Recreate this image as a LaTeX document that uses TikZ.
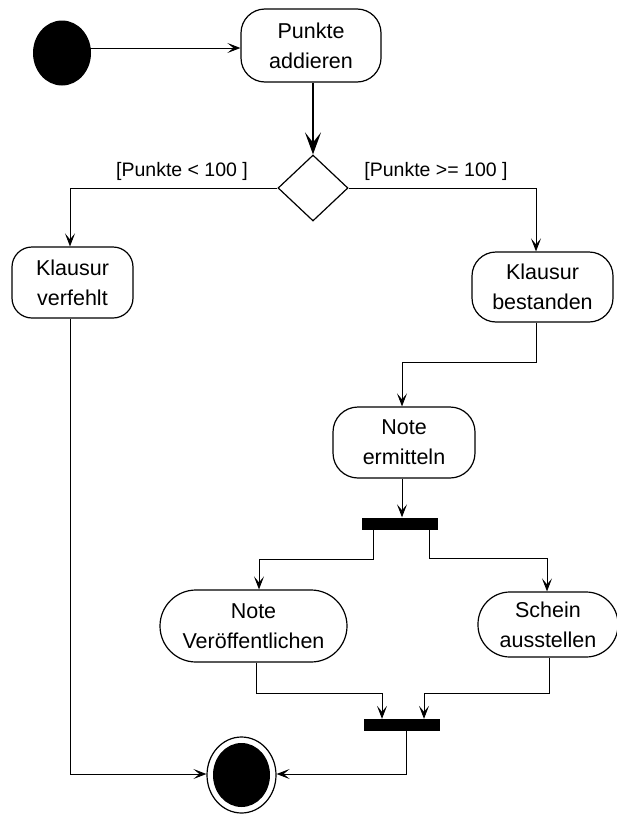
\documentclass[tikz,border=0pt]{standalone}
\usepackage{fontspec}
\setmainfont{Liberation Sans}
\usetikzlibrary{arrows.meta,shapes.geometric,calc}
\begin{document}
\begin{tikzpicture}[x=1pt,y=-1pt,
  action/.style={draw, line width=1.2pt, fill=white, align=center, inner sep=0pt,
    font=\fontsize{21.5}{30}\selectfont},
  bar/.style={fill=black, inner sep=0pt, minimum width=76, minimum height=12},
  flow/.style={line width=0.9pt, -{Stealth[length=13pt, width=10pt, inset=6pt]}},
  bigflow/.style={line width=2pt, -{Stealth[length=22pt, width=16pt, inset=10pt]}},
  guard/.style={font=\fontsize{19.5}{24}\selectfont, inner sep=0pt}]
\useasboundingbox (0,0) rectangle (617,814);

% start and end states
\node[ellipse, fill=black, inner sep=0pt, minimum width=58, minimum height=65] (init) at (62,53) {};
\node[ellipse, draw, line width=1.2pt, inner sep=0pt, minimum width=69, minimum height=76] (fin) at (241.5,775) {};
\node[ellipse, fill=black, inner sep=0pt, minimum width=57, minimum height=64] (finin) at (241.5,775) {};

% actions
\node[action, minimum width=140, minimum height=73, rounded corners=24pt] (add) at (311,45.5) {Punkte\\addieren};
\node[diamond, draw, line width=1.2pt, inner sep=0pt, minimum width=70, minimum height=66] (dec) at (313,188) {};
\node[action, minimum width=121, minimum height=71, rounded corners=20pt] (verf) at (72.5,282.5) {Klausur\\verfehlt};
\node[action, minimum width=141, minimum height=70, rounded corners=24pt] (best) at (542.5,287) {Klausur\\bestanden};
\node[action, minimum width=142, minimum height=71, rounded corners=25pt] (erm) at (404,442.5) {Note\\ermitteln};
\node[action, minimum width=187, minimum height=72, rounded corners=36pt] (ver) at (253.5,626) {Note\\Veröffentlichen};
\node[action, minimum width=140, minimum height=65, rounded corners=32pt] (sch) at (548,624.5) {Schein\\ausstellen};

% fork and join bars
\node[bar] (fork) at (400,523.5) {};
\node[bar] (join) at (402,725) {};

% guard labels
\node[guard] (lt) at (182,171) {[Punkte < 100 ]};
\node[guard] (ge) at (436,171) {[Punkte >= 100 ]};

% bend points
\coordinate (b1) at (536,362);
\coordinate (b2) at (402,362);
\coordinate (f1) at (373,559);
\coordinate (f2) at (259,559);
\coordinate (f3) at (429,558);
\coordinate (f4) at (547,558);
\coordinate (j1) at (256,693);
\coordinate (j2) at (382,693);
\coordinate (j3) at (549,693);
\coordinate (j4) at (424,693);
\coordinate (e1) at (406,774);
\coordinate (e2) at (70,774);

% transitions
\draw[flow] (init.center |- 0,48) -- (add.west |- 0,48);
\draw[bigflow] (add.south -| dec.north) -- (dec.north);
\draw[flow] (dec.west) -| (verf.north -| e2);
\draw[flow] (dec.east) -| (best.north -| b1);
\draw[flow] (best.south -| b1) -- (b1) -- (b2) -- (erm.north -| b2);
\draw[flow] (erm.south -| b2) -- (fork.north -| b2);
\draw[flow] (fork.south -| f1) -- (f1) -- (f2) -- (ver.north -| f2);
\draw[flow] (fork.south -| f3) -- (f3) -- (f4) -- (sch.north -| f4);
\draw[flow] (ver.south -| j1) -- (j1) -- (j2) -- (join.north -| j2);
\draw[flow] (sch.south -| j3) -- (j3) -- (j4) -- (join.north -| j4);
\draw[flow] (join.south -| e1) -- (e1) -- (fin.east |- e1);
\draw[flow] (verf.south -| e2) -- (e2) -- (fin.west |- e2);
\end{tikzpicture}
\end{document}
